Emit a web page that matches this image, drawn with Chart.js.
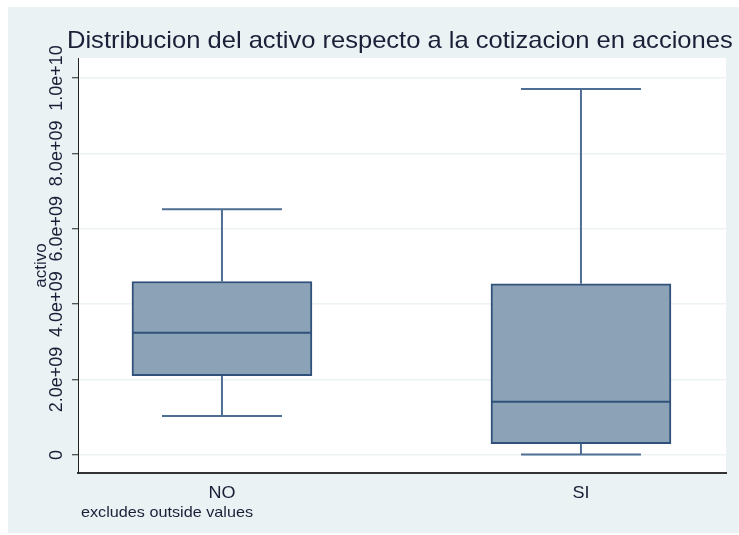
<!DOCTYPE html>
<html>
<head>
<meta charset="utf-8">
<script src="https://cdn.jsdelivr.net/npm/chart.js@4"></script>
<style>
  html, body { margin: 0; padding: 0; background: #ffffff; }
  #wrap { width: 739px; height: 535px; }
</style>
</head>
<body>
<div id="wrap"><canvas id="boxChart" width="739" height="535"></canvas></div>
<script>
// Datos (boxplot de activo por cotizacion)
const categories = ['NO', 'SI'];
const whiskerLow = [1.03e9, 0.01e9];
const q1 = [2.10e9, 0.30e9];
const median = [3.24e9, 1.41e9];
const q3 = [4.60e9, 4.54e9];
const whiskerHigh = [6.52e9, 9.71e9];

const yTicks = [0, 2e9, 4e9, 6e9, 8e9, 1e10];
const yTickLabels = ['0', '2.0e+09', '4.0e+09', '6.0e+09', '8.0e+09', '1.0e+10'];

const titleText = 'Distribucion del activo respecto a la cotizacion en acciones';
const yTitle = 'activo';
const noteText = 'excludes outside values';

const textColor = '#1b1f38';
const boxFill = '#8ba2b7';
const boxLine = '#30517a';
const whiskerColor = '#4f6e93';

// texto horizontal algo ensanchado, como en la imagen
function wideText(ctx, txt, x, y, sx) {
    ctx.save();
    ctx.translate(x, y);
    ctx.scale(sx, 1);
    ctx.fillText(txt, 0, 0);
    ctx.restore();
}

// fondo estilo Stata y todo el texto
const stataLook = {
    id: 'stataLook',
    beforeDraw(chart) {
        const ctx = chart.ctx;
        const a = chart.chartArea;
        ctx.save();
        ctx.fillStyle = '#ffffff';
        ctx.fillRect(0, 0, chart.width, chart.height);
        ctx.fillStyle = '#eaf2f3';
        ctx.fillRect(8, 7, chart.width - 8, chart.height - 9);
        ctx.fillStyle = '#ffffff';
        ctx.fillRect(a.left, a.top, a.right - a.left, a.bottom - a.top);
        ctx.restore();
    },
    afterDatasetsDraw(chart) {
        const ctx = chart.ctx;
        const x = chart.scales.x;
        const y = chart.scales.y;
        ctx.save();
        categories.forEach((c, i) => {
            const cx = x.getPixelForValue(i + 1);
            const half = 90, cap = 60;
            // bigotes
            ctx.strokeStyle = whiskerColor;
            ctx.lineWidth = 2;
            ctx.beginPath();
            ctx.moveTo(cx, y.getPixelForValue(q3[i]));
            ctx.lineTo(cx, y.getPixelForValue(whiskerHigh[i]));
            ctx.moveTo(cx, y.getPixelForValue(q1[i]));
            ctx.lineTo(cx, y.getPixelForValue(whiskerLow[i]));
            ctx.moveTo(cx - cap, y.getPixelForValue(whiskerHigh[i]));
            ctx.lineTo(cx + cap, y.getPixelForValue(whiskerHigh[i]));
            ctx.moveTo(cx - cap, y.getPixelForValue(whiskerLow[i]));
            ctx.lineTo(cx + cap, y.getPixelForValue(whiskerLow[i]));
            ctx.stroke();
            // mediana
            ctx.strokeStyle = boxLine;
            ctx.beginPath();
            ctx.moveTo(cx - half, y.getPixelForValue(median[i]));
            ctx.lineTo(cx + half, y.getPixelForValue(median[i]));
            ctx.stroke();
        });
        ctx.restore();
    },
    afterDraw(chart) {
        const ctx = chart.ctx;
        const x = chart.scales.x;
        const y = chart.scales.y;
        const a = chart.chartArea;
        ctx.save();
        ctx.fillStyle = textColor;
        // titulo
        ctx.font = '24px "Liberation Sans", Arial, sans-serif';
        ctx.textAlign = 'left';
        ctx.textBaseline = 'alphabetic';
        wideText(ctx, titleText, 67, 48, 1.064);
        // etiquetas del eje y, giradas
        ctx.font = '18px "Liberation Sans", Arial, sans-serif';
        ctx.textAlign = 'center';
        yTicks.forEach((v, i) => {
            ctx.save();
            ctx.translate(62, y.getPixelForValue(v));
            ctx.rotate(-Math.PI / 2);
            ctx.fillText(yTickLabels[i], 0, 0);
            ctx.restore();
        });
        // titulo eje y
        ctx.font = '17px "Liberation Sans", Arial, sans-serif';
        ctx.save();
        ctx.translate(46, (a.top + a.bottom) / 2);
        ctx.rotate(-Math.PI / 2);
        ctx.fillText(yTitle, 0, 0);
        ctx.restore();
        // categorias
        categories.forEach((c, i) => {
            wideText(ctx, c, x.getPixelForValue(i + 1), 498, 1.06);
        });
        // nota
        ctx.font = '15px "Liberation Sans", Arial, sans-serif';
        ctx.textAlign = 'left';
        wideText(ctx, noteText, 81, 517, 1.08);
        ctx.restore();
    }
};

new Chart(document.getElementById('boxChart'), {
    type: 'bar',
    data: {
        datasets: [{
            label: yTitle,
            data: categories.map((c, i) => ({ x: i + 1, y: [q1[i], q3[i]] })),
            backgroundColor: boxFill,
            borderColor: boxLine,
            borderWidth: 2,
            borderSkipped: false,
            barThickness: 180
        }]
    },
    options: {
        responsive: false,
        animation: false,
        layout: { padding: { top: 58, right: 13, left: 0, bottom: 0 } },
        plugins: { legend: { display: false }, tooltip: { enabled: false }, title: { display: false } },
        scales: {
            x: {
                type: 'linear',
                min: 0.599,
                max: 2.404,
                offset: false,
                grid: { display: false },
                border: { display: true, color: '#333333', width: 2 },
                ticks: { display: false },
                afterFit(scale) { scale.height = 62; }
            },
            y: {
                min: -0.48e9,
                max: 10.53e9,
                afterBuildTicks(scale) { scale.ticks = yTicks.map(v => ({ value: v })); },
                grid: { color: '#edf3f4', lineWidth: 1.5, tickLength: 6, tickColor: '#222222', tickWidth: 1 },
                border: { display: true, color: '#222222', width: 1 },
                ticks: { display: false },
                afterFit(scale) { scale.width = 78; }
            }
        }
    },
    plugins: [stataLook]
});
</script>
</body>
</html>
